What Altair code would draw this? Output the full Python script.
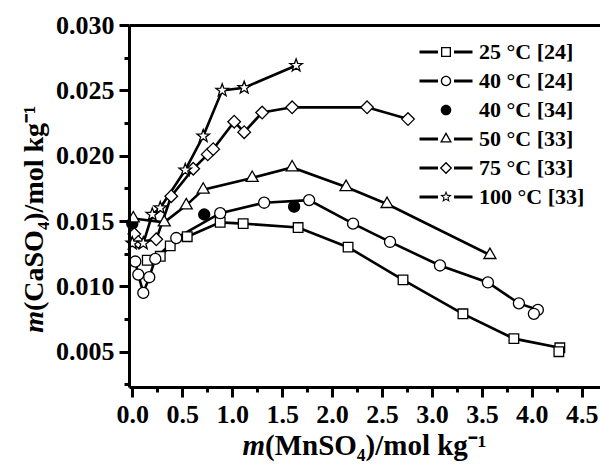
import math
import altair as alt
import pandas as pd

# Solubility of CaSO4 in aqueous MnSO4 solutions (mol/kg)
series_names = ["25 °C [24]", "40 °C [24]", "40 °C [34]", "50 °C [33]", "75 °C [33]", "100 °C [33]"]

mn_25_24 = [0.15, 0.28, 0.38, 0.55, 0.88, 1.11, 1.66, 2.16, 2.71, 3.31, 3.82, 4.28, 4.27]
ca_25_24 = [0.0120, 0.0123, 0.0131, 0.0138, 0.0149, 0.0148, 0.0145, 0.0130, 0.0105, 0.0079, 0.0060, 0.0053, 0.0050]

mn_40_24 = [0.03, 0.06, 0.11, 0.17, 0.23, 0.44, 0.88, 1.32, 1.77, 2.21, 2.58, 3.08, 3.56, 3.87, 4.06, 4.02]
ca_40_24 = [0.0119, 0.0109, 0.0095, 0.0107, 0.0121, 0.0137, 0.0156, 0.0164, 0.0166, 0.0148, 0.0134, 0.0116, 0.0103, 0.0087, 0.0082, 0.0079]

mn_40_34 = [0.0, 0.72, 1.62]
ca_40_34 = [0.0148, 0.0155, 0.0161]

mn_50_33 = [0.01, 0.32, 0.54, 0.71, 1.20, 1.60, 2.14, 2.55, 3.58]
ca_50_33 = [0.0152, 0.0149, 0.0162, 0.0174, 0.0183, 0.0191, 0.0176, 0.0163, 0.0124]

mn_75_33 = [0.02, 0.06, 0.24, 0.39, 0.61, 0.755, 0.81, 1.02, 1.12, 1.30, 1.60, 2.35, 2.76]
ca_75_33 = [0.0140, 0.0134, 0.0136, 0.0169, 0.0190, 0.0201, 0.0205, 0.0226, 0.0218, 0.0233, 0.0237, 0.0237, 0.0228]

mn_100_33 = [0.0, 0.11, 0.20, 0.28, 0.53, 0.71, 0.90, 1.12, 1.64]
ca_100_33 = [0.0133, 0.0133, 0.0155, 0.0160, 0.0189, 0.0215, 0.0250, 0.0252, 0.0269]

x_ticks = [0.0, 0.5, 1.0, 1.5, 2.0, 2.5, 3.0, 3.5, 4.0, 4.5]
x_minor = [0.25, 0.75, 1.25, 1.75, 2.25, 2.75, 3.25, 3.75, 4.25]
y_ticks = [0.005, 0.010, 0.015, 0.020, 0.025, 0.030]
y_minor = [0.0025, 0.0075, 0.0125, 0.0175, 0.0225, 0.0275]

x_title_m = "m"
x_title_rest = "(MnSO₄)/mol kg⁻¹"
y_title_m = "m"
y_title_rest = "(CaSO₄)/mol kg⁻¹"

series_data = [
    (series_names[0], mn_25_24, ca_25_24),
    (series_names[1], mn_40_24, ca_40_24),
    (series_names[2], mn_40_34, ca_40_34),
    (series_names[3], mn_50_33, ca_50_33),
    (series_names[4], mn_75_33, ca_75_33),
    (series_names[5], mn_100_33, ca_100_33),
]
rows = []
for name, xs, ys in series_data:
    for i, (xv, yv) in enumerate(zip(xs, ys)):
        rows.append({"series": name, "x": xv, "y": yv, "idx": i})
df = pd.DataFrame(rows)
dot_series = series_names[2]

# ---- symbol paths -------------------------------------------------------
def poly(pts):
    return "M" + "L".join(f"{px:.3f},{py:.3f}" for px, py in pts) + "Z"

def star_pts(R, r):
    pts = []
    for k in range(10):
        a = math.radians(-90 + 36 * k)
        rad = R if k % 2 == 0 else r
        pts.append((rad * math.cos(a), rad * math.sin(a)))
    return pts

def circle(r, sweep=1):
    return (f"M{-r},0A{r},{r},0,1,{sweep},{r},0"
            f"A{r},{r},0,1,{sweep},{-r},0Z")

def ring(pts, k):
    inner = [(px * k, py * k) for px, py in reversed(pts)]
    return poly(pts) + poly(inner)

# plot markers (unit coordinates, size 144 -> 6 px per unit)
m_square = poly([(-0.8, -0.8), (0.8, -0.8), (0.8, 0.8), (-0.8, 0.8)])
m_circle = circle(0.92)
m_triangle = poly([(0, -1.15), (1.0, 0.58), (-1.0, 0.58)])
m_diamond = poly([(0, -1.05), (1.05, 0), (0, 1.05), (-1.05, 0)])
m_star = poly(star_pts(1.1, 0.45))
marker_paths = [m_square, m_circle, m_circle, m_triangle, m_diamond, m_star]
marker_fills = ["white", "white", "black", "white", "white", "white"]

# legend symbols: outlined marker drawn as a filled ring plus two line stubs
bars = poly([(-2.65, -0.15), (-0.8, -0.15), (-0.8, 0.15), (-2.65, 0.15)]) + \
       poly([(0.8, -0.15), (2.65, -0.15), (2.65, 0.15), (0.8, 0.15)])
sq = [(-0.5, -0.5), (0.5, -0.5), (0.5, 0.5), (-0.5, 0.5)]
tri = [(0, -0.69), (0.6, 0.346), (-0.6, 0.346)]
dia = [(0, -0.62), (0.62, 0), (0, 0.62), (-0.62, 0)]
legend_paths = [
    bars + ring(sq, 0.74),
    bars + circle(0.52, 1) + circle(0.39, 0),
    circle(0.53, 1),
    bars + ring(tri, 0.62),
    bars + ring(dia, 0.70),
    bars + ring(star_pts(0.62, 0.27), 0.55),
]

# ---- scales and axes ----------------------------------------------------
FONT = "Liberation Serif"
x_scale = alt.Scale(domain=[-0.033, 4.682], nice=False, zero=False)
y_scale = alt.Scale(domain=[0.0023, 0.030], nice=False, zero=False)

axis_common = dict(grid=False, title=None, tickColor="black", tickWidth=3,
                   domainColor="black", domainWidth=3, labelColor="black",
                   labelFont=FONT, labelFontWeight="bold", labelFontSize=26,
                   labelFlush=False, labelOverlap=False, zindex=1)

x_major = alt.X("x:Q", scale=x_scale, axis=alt.Axis(
    orient="bottom", values=x_ticks, format=".1f", tickSize=10, labelPadding=4, **axis_common))
y_major = alt.Y("y:Q", scale=y_scale, axis=alt.Axis(
    orient="left", values=y_ticks, format=".3f", tickSize=10, labelPadding=5, **axis_common))
x_minor_enc = alt.X("x:Q", scale=x_scale, axis=alt.Axis(
    orient="bottom", values=x_minor, labels=False, domain=False, tickSize=5,
    tickWidth=3, tickColor="black", grid=False, title=None, zindex=1))
y_minor_enc = alt.Y("y:Q", scale=y_scale, axis=alt.Axis(
    orient="left", values=y_minor, labels=False, domain=False, tickSize=5,
    tickWidth=3, tickColor="black", grid=False, title=None, zindex=1))

base = alt.Chart(df)

lines = base.transform_filter(alt.datum.series != dot_series).mark_line(
    color="black", strokeWidth=2.6
).encode(x=x_minor_enc, y=y_minor_enc, detail="series:N", order="idx:Q")

points = base.mark_point(filled=True, stroke="black", strokeWidth=1.3,
                         opacity=1, size=144).encode(
    x=x_major, y=y_major,
    shape=alt.Shape("series:N", scale=alt.Scale(domain=series_names, range=marker_paths), legend=None),
    fill=alt.Fill("series:N", scale=alt.Scale(domain=series_names, range=marker_fills), legend=None),
)

legend_layer = base.transform_filter("false").mark_point(
    filled=True, color="black", strokeWidth=0, opacity=1
).encode(
    x=alt.X("x:Q", scale=x_scale, axis=alt.Axis(
        orient="top", labels=False, ticks=False, domainWidth=3,
        domainColor="black", grid=False, title=None, zindex=1)),
    y=alt.Y("y:Q", scale=y_scale, axis=None),
    shape=alt.Shape("series:N", scale=alt.Scale(domain=series_names, range=legend_paths),
                    legend=alt.Legend(
                        title=None, orient="none", legendX=306, legendY=16,
                        labelFont=FONT, labelFontWeight="bold", labelFontSize=22,
                        labelColor="black", symbolSize=400, symbolStrokeWidth=0,
                        symbolFillColor="black", symbolOpacity=1, labelOffset=22,
                        rowPadding=7, padding=0, labelLimit=0,
                        labelExpr="length(datum.label) < 11 ? '\u2007' + datum.label : datum.label")),
)

def label(text, px, py, **kw):
    return alt.Chart(pd.DataFrame({"t": [text]})).mark_text(
        font=FONT, fontWeight="bold", color="black", **kw
    ).encode(text="t:N", x=alt.value(px), y=alt.value(py))

tx_m = label(x_title_m, 136, 430, fontSize=29, fontStyle="italic", align="right", baseline="alphabetic")
tx_rest = label(x_title_rest, 136, 430, fontSize=29, align="left", baseline="alphabetic")
ty_m = label(y_title_m, -86, 286, fontSize=28, fontStyle="italic", align="right", baseline="alphabetic", angle=270)
ty_rest = label(y_title_rest, -86, 286, fontSize=28, align="left", baseline="alphabetic", angle=270)

chart = alt.layer(
    lines, points, legend_layer, tx_m, tx_rest, ty_m, ty_rest
).resolve_scale(
    shape="independent"
).resolve_axis(
    x="independent", y="independent"
).properties(
    width=471, height=362,
    padding={"left": 129, "top": 25, "right": 0, "bottom": 87},
    autosize=alt.AutoSizeParams(type="none"),
).configure_view(stroke=None)

chart.save("out.html", embed_options={"renderer": "svg", "actions": False})
